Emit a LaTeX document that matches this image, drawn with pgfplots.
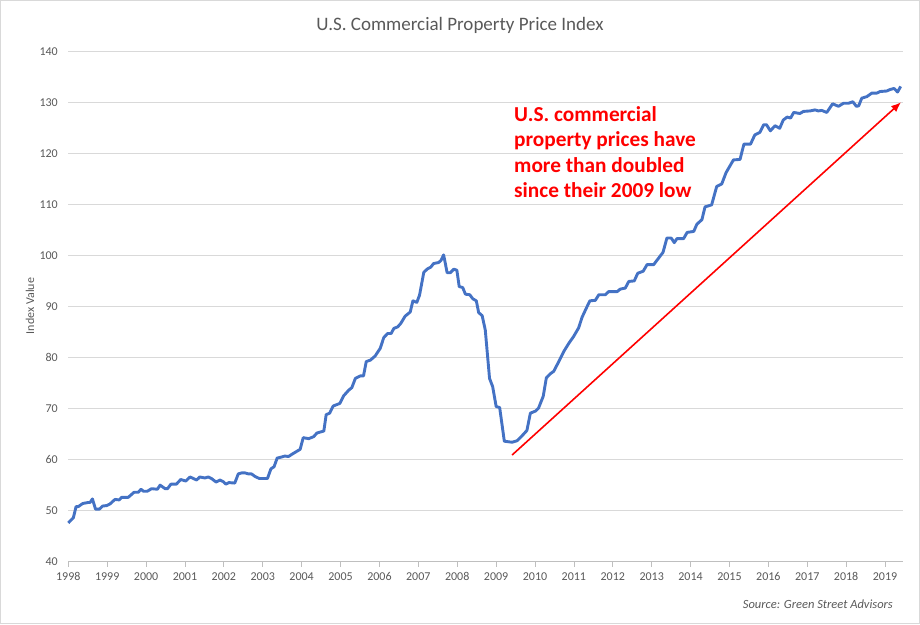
\documentclass[border=0pt]{standalone}
\usepackage{pgfplots}
\pgfplotsset{compat=1.18}
\usepackage{fontspec}
\setmainfont{Carlito}
\usetikzlibrary{arrows.meta}
\definecolor{linecol}{HTML}{4472C4}
\definecolor{txtgray}{HTML}{595959}
\definecolor{gridgray}{HTML}{D9D9D9}
\definecolor{axgray}{HTML}{BFBFBF}
\begin{document}
\begin{tikzpicture}
\useasboundingbox (0,0) rectangle (920pt,624pt);
\draw[gridgray, line width=0.8pt] (0.5pt,0.5pt) rectangle (919.5pt,623.5pt);
\begin{axis}[
  at={(68.3pt,62.3pt)}, anchor=south west,
  scale only axis, width=834.7pt, height=510.5pt,
  xmin=1998, xmax=2019.46, ymin=40, ymax=140,
  xtick={1998,1999,...,2019}, ytick={40,50,...,140},
  /pgf/number format/assume math mode=true,
  /pgf/number format/set thousands separator={},
  ticklabel style={font=\fontsize{12}{14}\selectfont, text=txtgray},
  axis x line*=bottom, axis y line*=left,
  x axis line style={draw=axgray, line width=0.8pt},
  y axis line style={draw=none},
  xtick style={draw=axgray, line width=0.8pt},
  ytick style={draw=none},
  tick align=outside, major tick length=5pt,
  ymajorgrids, grid style={draw=gridgray, line width=0.8pt},
  xticklabel style={yshift=-2pt},
  yticklabel style={xshift=-2pt},
  clip=false,
]
\addplot[linecol, line width=2.9pt, line join=round] coordinates {
(1998.00,47.6)(1998.13,48.6)(1998.20,50.8)(1998.26,50.8)(1998.37,51.4)(1998.51,51.6)
(1998.56,51.6)(1998.62,52.3)(1998.70,50.3)(1998.80,50.3)(1998.88,50.9)(1998.99,51.0)
(1999.07,51.3)(1999.20,52.2)(1999.31,52.1)(1999.37,52.6)(1999.54,52.6)(1999.69,53.6)
(1999.80,53.6)(1999.87,54.2)(1999.93,53.8)(2000.03,53.8)(2000.14,54.3)(2000.29,54.2)
(2000.36,55.0)(2000.49,54.3)(2000.55,54.3)(2000.64,55.2)(2000.78,55.2)(2000.89,56.1)
(2001.02,55.8)(2001.13,56.6)(2001.30,56.0)(2001.38,56.6)(2001.51,56.4)(2001.60,56.6)
(2001.68,56.3)(2001.80,55.6)(2001.90,56.0)(2001.98,55.7)(2002.05,55.2)(2002.13,55.5)
(2002.28,55.4)(2002.37,57.2)(2002.46,57.4)(2002.54,57.4)(2002.63,57.2)(2002.71,57.2)
(2002.80,56.7)(2002.91,56.3)(2003.12,56.3)(2003.21,58.2)(2003.29,58.6)(2003.37,60.3)
(2003.48,60.5)(2003.57,60.7)(2003.66,60.6)(2003.74,61.0)(2003.87,61.6)(2003.96,62.0)
(2004.04,64.3)(2004.18,64.1)(2004.31,64.5)(2004.39,65.2)(2004.57,65.6)(2004.63,68.8)
(2004.72,69.1)(2004.81,70.5)(2004.98,71.0)(2005.08,72.5)(2005.21,73.6)(2005.29,74.1)
(2005.38,75.9)(2005.51,76.4)(2005.59,76.4)(2005.66,79.2)(2005.77,79.5)(2005.89,80.3)
(2006.02,81.8)(2006.11,83.9)(2006.21,84.7)(2006.30,84.7)(2006.37,85.7)(2006.47,86.0)
(2006.55,86.7)(2006.66,88.1)(2006.79,88.9)(2006.86,91.1)(2006.96,90.8)(2007.03,92.2)
(2007.14,96.7)(2007.24,97.4)(2007.32,97.7)(2007.39,98.4)(2007.52,98.6)(2007.58,99.0)
(2007.65,100.1)(2007.74,96.6)(2007.82,96.6)(2007.91,97.3)(2007.99,97.1)(2008.05,93.9)
(2008.14,93.7)(2008.21,92.4)(2008.32,92.3)(2008.40,91.5)(2008.49,91.1)(2008.55,88.8)
(2008.64,88.2)(2008.72,85.4)(2008.83,75.9)(2008.91,74.3)(2009.00,70.4)(2009.09,70.2)
(2009.21,63.6)(2009.41,63.4)(2009.54,63.7)(2009.67,64.7)(2009.79,65.7)(2009.88,69.1)
(2010.01,69.5)(2010.09,70.1)(2010.21,72.4)(2010.29,76.0)(2010.39,76.8)(2010.48,77.3)
(2010.61,79.2)(2010.74,81.2)(2010.87,82.8)(2010.99,84.1)(2011.12,85.8)(2011.21,87.9)
(2011.32,89.7)(2011.41,91.1)(2011.55,91.2)(2011.64,92.3)(2011.81,92.3)(2011.89,92.9)
(2012.11,92.9)(2012.19,93.4)(2012.32,93.6)(2012.41,94.9)(2012.55,95.0)(2012.64,96.5)
(2012.78,96.9)(2012.88,98.2)(2013.05,98.2)(2013.18,99.5)(2013.29,100.6)(2013.39,103.4)
(2013.50,103.4)(2013.58,102.5)(2013.65,103.3)(2013.82,103.3)(2013.91,104.5)(2014.08,104.7)
(2014.16,106.1)(2014.29,107.0)(2014.37,109.5)(2014.54,109.9)(2014.67,113.5)(2014.80,114.0)
(2014.91,116.2)(2015.10,118.7)(2015.27,118.8)(2015.37,121.8)(2015.54,121.8)(2015.65,123.6)
(2015.78,124.1)(2015.88,125.6)(2015.95,125.6)(2016.05,124.4)(2016.17,125.4)(2016.29,124.9)
(2016.38,126.5)(2016.48,127.1)(2016.57,126.9)(2016.65,128.0)(2016.81,127.8)(2016.90,128.2)
(2017.07,128.3)(2017.20,128.5)(2017.28,128.3)(2017.37,128.4)(2017.50,128.0)(2017.65,129.7)
(2017.80,129.2)(2017.93,129.8)(2018.06,129.8)(2018.17,130.1)(2018.26,129.2)(2018.32,129.3)
(2018.40,130.8)(2018.53,131.1)(2018.66,131.8)(2018.79,131.8)(2018.87,132.1)(2019.04,132.2)
(2019.13,132.5)(2019.23,132.7)(2019.32,132.0)(2019.40,133.1)
};
\draw[red, line width=1.6pt, -{Latex[length=10pt,width=8pt]}] (axis cs:2009.41,60.9) -- (axis cs:2019.41,130.0);
\end{axis}
\node[text=txtgray, font=\fontsize{19}{22}\selectfont] at (460pt,599pt) {U.S. Commercial Property Price Index};
\node[text=txtgray, rotate=90, font=\fontsize{12}{14}\selectfont] at (30pt,318pt) {Index Value};
\node[text=red, anchor=north west, align=left, inner sep=0pt, font=\fontsize{21.3}{25.5}\selectfont\bfseries] at (514pt,518pt) {U.S. commercial\\property prices have\\more than doubled\\since their 2009 low};
\node[text=txtgray, anchor=east, inner sep=0pt, font=\fontsize{12.5}{14}\selectfont\itshape] at (893pt,20pt) {Source: Green Street Advisors};
\end{tikzpicture}
\end{document}
